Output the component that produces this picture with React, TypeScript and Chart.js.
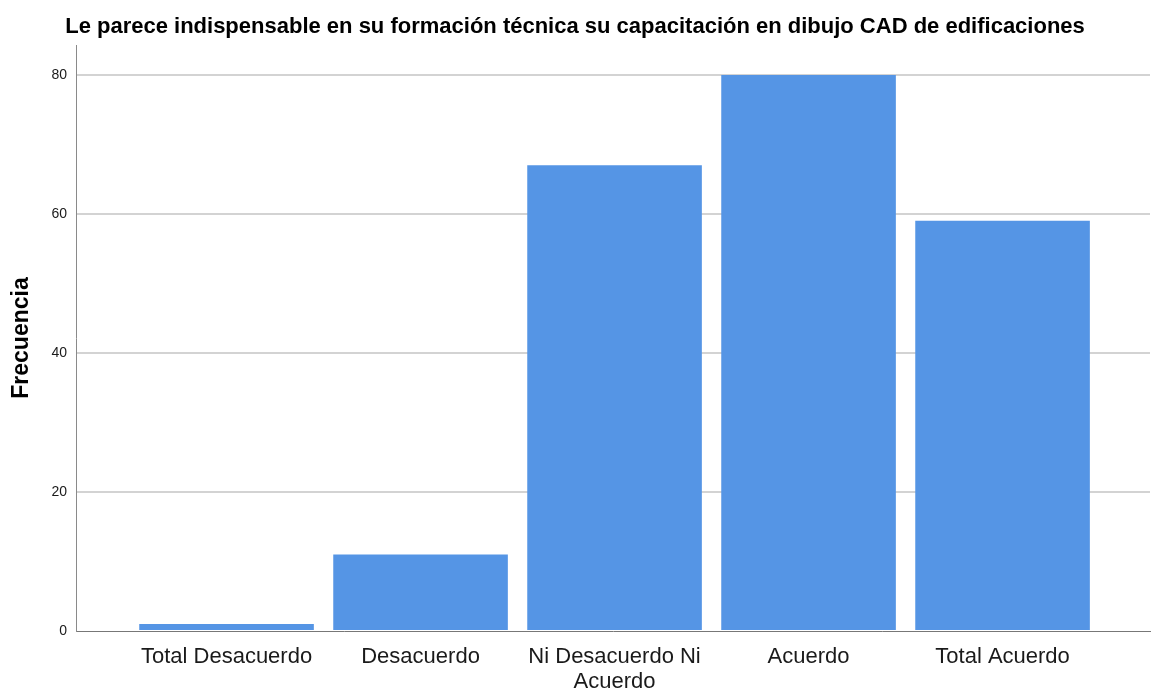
import React, { useEffect, useRef } from "react";
import { Chart, registerables } from "chart.js";

Chart.register(...registerables);

const chartTitle =
  "Le parece indispensable en su formación técnica su capacitación en dibujo CAD de edificaciones";
const yAxisTitle = "Frecuencia";
const categories: (string | string[])[] = [
  "Total Desacuerdo",
  "Desacuerdo",
  ["Ni Desacuerdo Ni", "Acuerdo"],
  "Acuerdo",
  "Total Acuerdo",
];
const frequencies = [1, 11, 67, 80, 59];
const yTickValues = [0, 20, 40, 60, 80];

const FONT = "'Liberation Sans', Arial, Helvetica, sans-serif";

export default function App() {
  const canvasRef = useRef<HTMLCanvasElement | null>(null);

  useEffect(() => {
    if (!canvasRef.current) return;
    const chart = new Chart(canvasRef.current, {
      type: "bar",
      data: {
        datasets: [
          {
            label: yAxisTitle,
            data: frequencies.map((v, i) => ({ x: i, y: v })),
            backgroundColor: "#5595e5",
            borderWidth: 0,
            barPercentage: 0.9,
            categoryPercentage: 1,
          },
        ],
      },
      options: {
        responsive: false,
        animation: false,
        layout: { padding: { left: 0, right: 1, top: 0, bottom: 0 } },
        plugins: {
          legend: { display: false },
          tooltip: { enabled: false },
          title: {
            display: true,
            text: chartTitle,
            color: "#000",
            font: { family: FONT, size: 22, weight: "bold" },
            padding: { top: 13.5, bottom: 5.1 },
          },
        },
        scales: {
          x: {
            type: "linear",
            offset: false,
            min: -0.776,
            max: 4.76,
            grid: { display: false, drawTicks: false, offset: false },
            border: { display: true, color: "#777", width: 1 },
            afterBuildTicks: (scale: any) => {
              scale.ticks = categories.map((_, i) => ({ value: i }));
            },
            afterFit: (scale: any) => {
              scale.height = 59;
            },
            ticks: {
              autoSkip: false,
              maxRotation: 0,
              minRotation: 0,
              padding: 13,
              color: "#1a1a1a",
              font: { family: FONT, size: 22, lineHeight: 1.15 },
              callback: (v: any) => categories[Math.round(Number(v))] as any,
            },
          },
          y: {
            type: "linear",
            min: 0,
            max: 84.3,
            grid: {
              drawTicks: false,
              lineWidth: 2,
              color: (ctx: any) =>
                ctx.tick && ctx.tick.value === 0 ? "rgba(0,0,0,0)" : "#d3d3d3",
            },
            border: { display: true, color: "#8a8a8a", width: 1 },
            afterBuildTicks: (scale: any) => {
              scale.ticks = yTickValues.map((v) => ({ value: v }));
            },
            afterFit: (scale: any) => {
              scale.width = 76;
            },
            ticks: {
              padding: 9,
              color: "#1a1a1a",
              font: { family: FONT, size: 14 },
            },
            title: {
              display: true,
              text: yAxisTitle,
              color: "#000",
              font: { family: FONT, size: 23, weight: "bold" },
              padding: { top: 8, bottom: 8 },
            },
          },
        },
      },
    } as any);
    return () => chart.destroy();
  }, []);

  return (
    <div style={{ position: "fixed", left: 0, top: 0, width: 1151, height: 690, background: "#fff" }}>
      <canvas ref={canvasRef} width={1151} height={690} style={{ display: "block" }} />
    </div>
  );
}
